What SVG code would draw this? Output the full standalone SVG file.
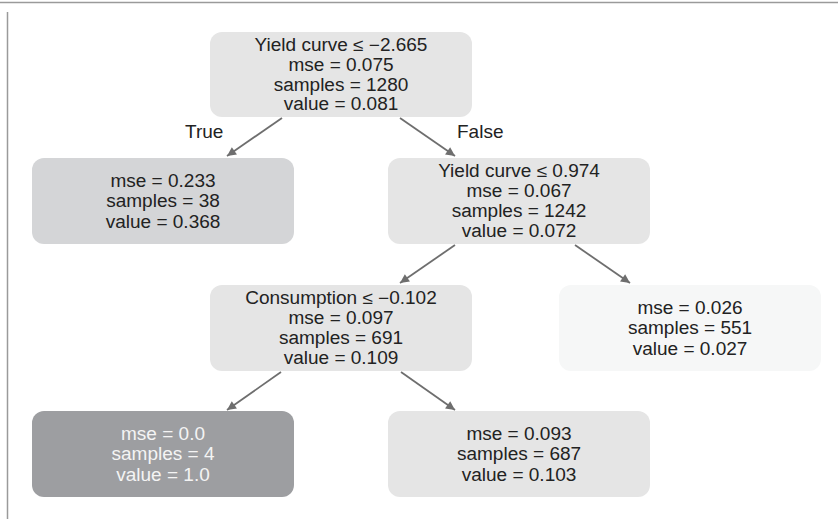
<svg xmlns="http://www.w3.org/2000/svg" width="838" height="519" viewBox="0 0 838 519">
  <style>
    text { font-family: "Liberation Sans", Arial, sans-serif; font-size: 19px; fill: #222; text-anchor: middle; }
    .split { font-size: 17.6px; }
    .leaf { font-size: 18.3px; }
    .light text { fill: #f4f4f4; }
    .edge { stroke: #6e6e6e; stroke-width: 1.8; fill: none; marker-end: url(#arrow); }
    .lbl { text-anchor: start; }
  </style>
  <defs>
    <marker id="arrow" viewBox="0 0 10 10" refX="10" refY="5" markerWidth="11" markerHeight="9" markerUnits="userSpaceOnUse" orient="auto">
      <path d="M0,0 L10,5 L0,10 z" fill="#6e6e6e"/>
    </marker>
  </defs>

  <!-- frame -->
  <path d="M0,2.5 H838 M7.5,12 V519" stroke="#9a9a9a" stroke-width="1.5" fill="none"/>

  <g id="connectors">
    <line class="edge" x1="282" y1="118" x2="227" y2="156"/>
    <line class="edge" x1="400" y1="118" x2="455" y2="156"/>
    <line class="edge" x1="455" y1="245" x2="400" y2="283"/>
    <line class="edge" x1="575" y1="245" x2="630" y2="283"/>
    <line class="edge" x1="281" y1="372" x2="227" y2="410"/>
    <line class="edge" x1="401" y1="372" x2="455" y2="410"/>
    <text class="lbl" x="185" y="138">True</text>
    <text class="lbl" x="457" y="138">False</text>
  </g>

  <!-- split nodes: four lines, 19.8px apart, glyphs widened a little -->
  <g id="node-root">
    <rect x="210" y="32" width="262" height="85" rx="12" fill="#e5e5e5"/>
    <text class="split" transform="translate(341 0) scale(1.08 1)" x="0" y="51">Yield curve ≤ −2.665<tspan x="0" dy="19.8">mse = 0.075</tspan><tspan x="0" dy="19.8">samples = 1280</tspan><tspan x="0" dy="19.8">value = 0.081</tspan></text>
  </g>

  <!-- leaves: three lines, 20.5px apart -->
  <g id="node-left">
    <rect x="32" y="158" width="262" height="86" rx="12" fill="#d4d5d7"/>
    <text class="leaf" transform="translate(163 0) scale(1.04 1)" x="0" y="187">mse = 0.233<tspan x="0" dy="20.5">samples = 38</tspan><tspan x="0" dy="20.5">value = 0.368</tspan></text>
  </g>

  <g id="node-yield">
    <rect x="388" y="158" width="262" height="86" rx="12" fill="#e5e5e5"/>
    <text class="split" transform="translate(519 0) scale(1.08 1)" x="0" y="177.5">Yield curve ≤ 0.974<tspan x="0" dy="19.8">mse = 0.067</tspan><tspan x="0" dy="19.8">samples = 1242</tspan><tspan x="0" dy="19.8">value = 0.072</tspan></text>
  </g>

  <g id="node-consumption">
    <rect x="210" y="285" width="262" height="86" rx="12" fill="#e5e5e5"/>
    <text class="split" transform="translate(341 0) scale(1.08 1)" x="0" y="304.5">Consumption ≤ −0.102<tspan x="0" dy="19.8">mse = 0.097</tspan><tspan x="0" dy="19.8">samples = 691</tspan><tspan x="0" dy="19.8">value = 0.109</tspan></text>
  </g>

  <g id="node-leaf-right">
    <rect x="559" y="285" width="262" height="86" rx="12" fill="#f6f7f7"/>
    <text class="leaf" transform="translate(690 0) scale(1.04 1)" x="0" y="314">mse = 0.026<tspan x="0" dy="20.5">samples = 551</tspan><tspan x="0" dy="20.5">value = 0.027</tspan></text>
  </g>

  <g id="node-leaf-dark" class="light">
    <rect x="32" y="411" width="262" height="86" rx="12" fill="#9d9ea1"/>
    <text class="leaf" transform="translate(163 0) scale(1.04 1)" x="0" y="440">mse = 0.0<tspan x="0" dy="20.5">samples = 4</tspan><tspan x="0" dy="20.5">value = 1.0</tspan></text>
  </g>

  <g id="node-leaf-mid">
    <rect x="388" y="411" width="262" height="86" rx="12" fill="#e5e5e5"/>
    <text class="leaf" transform="translate(519 0) scale(1.04 1)" x="0" y="440">mse = 0.093<tspan x="0" dy="20.5">samples = 687</tspan><tspan x="0" dy="20.5">value = 0.103</tspan></text>
  </g>
</svg>
